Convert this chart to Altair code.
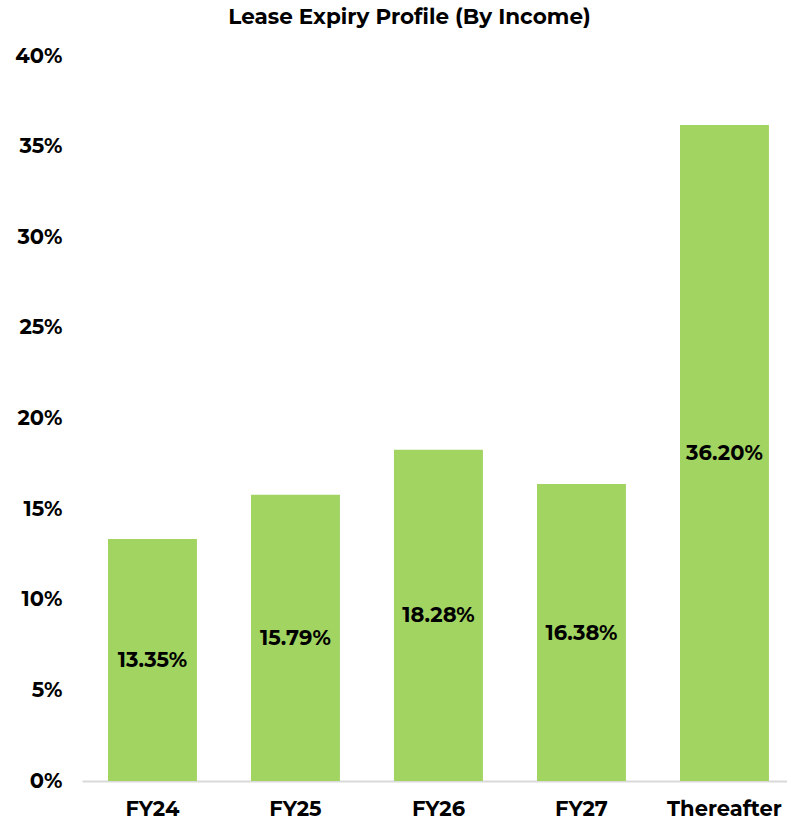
import altair as alt
import pandas as pd

categories = ["FY24", "FY25", "FY26", "FY27", "Thereafter"]
values = [13.35, 15.79, 18.28, 16.38, 36.20]
labels = ["13.35%", "15.79%", "18.28%", "16.38%", "36.20%"]

df = pd.DataFrame({"cat": categories, "val": [v / 100 for v in values], "lab": labels})
df["mid"] = df["val"] / 2

FONT = "Montserrat, Inter, sans-serif"

x = alt.X("cat:N", sort=categories, title=None,
          scale=alt.Scale(paddingInner=0.378, paddingOuter=0.154, align=0.59),
          axis=alt.Axis(labelAngle=0, labelFont=FONT, labelFontSize=21, labelFontWeight="bold",
                        labelColor="#000000", labelPadding=17, ticks=False,
                        domainColor="#d9d9d9", domainWidth=2))

bars = alt.Chart(df).mark_bar(color="#A2D462").encode(
    x=x,
    y=alt.Y("val:Q", title=None,
            scale=alt.Scale(domain=[0, 0.4]),
            axis=alt.Axis(format=".0%", values=[0, 0.05, 0.1, 0.15, 0.2, 0.25, 0.3, 0.35, 0.4],
                          grid=False, ticks=False, domain=False,
                          labelFont=FONT, labelFontSize=21, labelFontWeight="bold",
                          labelColor="#000000", labelPadding=20)),
)

text = alt.Chart(df).mark_text(font=FONT, fontSize=21, fontWeight="bold", color="#000000", dy=1).encode(
    x=alt.X("cat:N", sort=categories),
    y=alt.Y("mid:Q"),
    text="lab:N",
)

chart = alt.layer(bars, text).properties(
    width=705, height=725,
    title=alt.Title("Lease Expiry Profile (By Income)", font=FONT, fontSize=21.5, fontWeight="bold",
                    color="#000000", anchor="middle", dx=-25, offset=17),
    autosize=alt.AutoSizeParams(type="none"),
    padding={"left": 82, "top": 56, "right": 0, "bottom": 38},
).configure_view(stroke=None)

chart.save("out.html", embed_options={"renderer": "svg", "actions": False})
